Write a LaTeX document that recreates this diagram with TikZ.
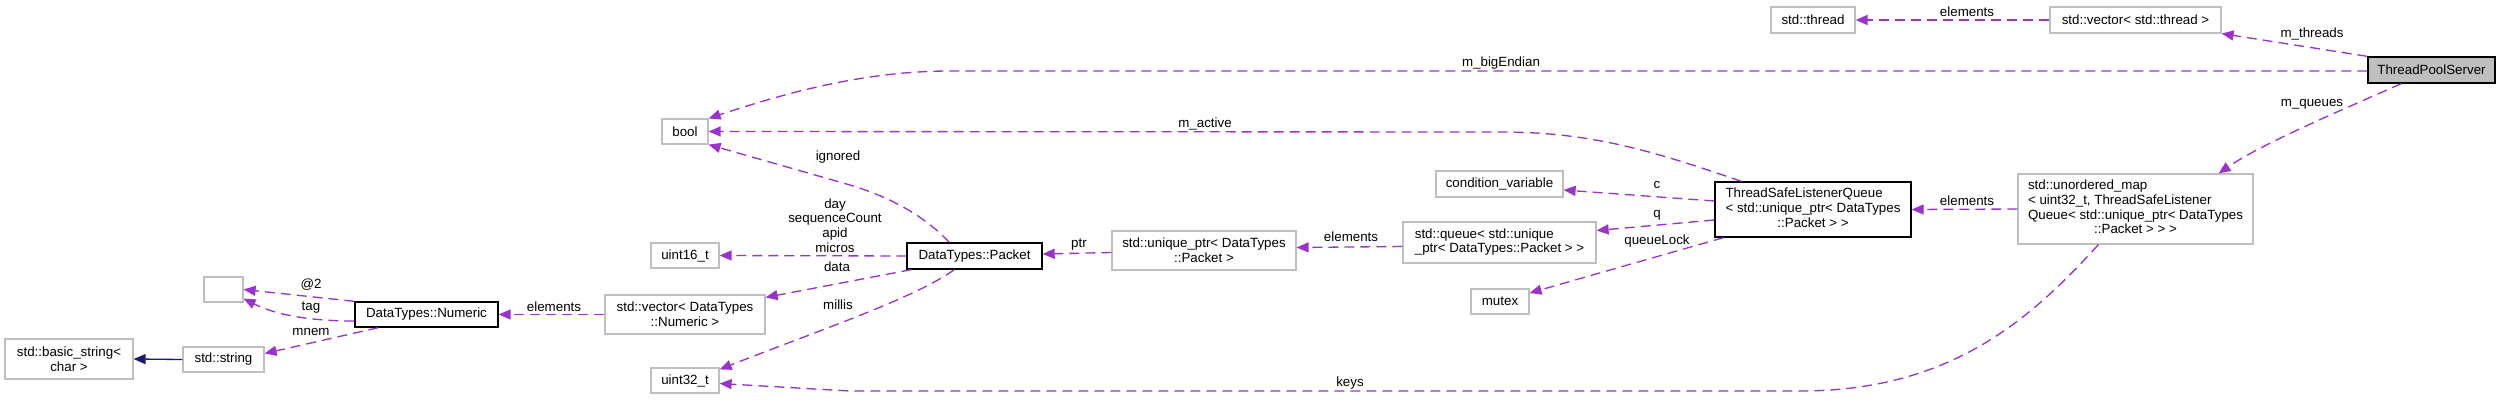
\documentclass[tikz,border=0pt]{standalone}
\usepackage{fontspec}
\setmainfont{Liberation Sans}
\usetikzlibrary{arrows.meta,positioning,calc}
\definecolor{edgepurple}{HTML}{9A32CD}
\definecolor{boxgray}{HTML}{BFBFBF}
\definecolor{inhblue}{HTML}{191970}
\newcommand{\dgfont}{\fontsize{10}{11}\selectfont}

\begin{document}
\begin{tikzpicture}[x=0.75pt, y=-0.75pt,
    cls/.style={draw=boxgray, line width=0.9pt, font=\dgfont, inner sep=0pt, align=center},
    doc/.style={cls, draw=black, line width=1pt},
    sz/.style 2 args={minimum width=#1*0.75pt, minimum height=#2*0.75pt},
    mbr/.style={draw=edgepurple, line width=1pt, dash pattern=on 7.5pt off 4.5pt,
      -{Triangle[length=9pt, width=7.5pt]}},
    inh/.style={draw=inhblue, line width=1pt, -{Triangle[length=9pt, width=7.5pt]}},
    lbl/.style={font=\dgfont, inner sep=0pt, align=center}]
    \useasboundingbox (0,0) rectangle (2501,400);

    % classes
    \node[doc, sz={127}{26}, fill=boxgray] (tps) at (2431.5,70) {ThreadPoolServer};
    \node[cls, sz={171}{26}] (vthread) at (2135.5,20) {std::vector< std::thread >};
    \node[cls, sz={84}{26}] (thread) at (1813,20) {std::thread};
    \node[cls, sz={235}{70}] (umap) at (2135.5,209)
      {\begin{tabular}{@{}l@{}}std::unordered\_map\\< uint32\_t, ThreadSafeListener\\Queue< std::unique\_ptr< DataTypes\\\multicolumn{1}{@{}c@{}}{::Packet > > >}\end{tabular}};
    \node[doc, sz={196}{55}] (tslq) at (1813,209.5)
      {\begin{tabular}{@{}l@{}}ThreadSafeListenerQueue\\< std::unique\_ptr< DataTypes\\\multicolumn{1}{@{}c@{}}{::Packet > >}\end{tabular}};
    \node[cls, sz={127}{26}] (cv) at (1499.5,184) {condition\_variable};
    \node[cls, sz={193}{41}] (queue) at (1499.5,242.5)
      {\begin{tabular}{@{}l@{}}std::queue< std::unique\\\_ptr< DataTypes::Packet > >\end{tabular}};
    \node[cls, sz={58}{25}] (mutex) at (1500,301.5) {mutex};
    \node[cls, sz={184}{39}] (uptr) at (1204,250.5) {std::unique\_ptr< DataTypes\\::Packet >};
    \node[doc, sz={135}{26}] (packet) at (974.5,256) {DataTypes::Packet};
    \node[cls, sz={46}{25}] (boolT) at (685,131.5) {bool};
    \node[cls, sz={68}{25}] (u16) at (685,255.5) {uint16\_t};
    \node[cls, sz={160}{39}] (vnum) at (685,314.5) {std::vector< DataTypes\\::Numeric >};
    \node[cls, sz={68}{25}] (u32) at (685,380.5) {uint32\_t};
    \node[doc, sz={143}{25}] (numeric) at (426.5,314.5) {DataTypes::Numeric};
    \node[cls, sz={39}{25}] (anon) at (223.5,289.5) {};
    \node[cls, sz={81}{25}] (str) at (223.5,359.5) {std::string};
    \node[cls, sz={128}{40}] (bstr) at (69,359) {std::basic\_string<\\char >};

    % members of ThreadPoolServer
    \draw[mbr] (tps.north west) -- (vthread.south east);
    \draw[mbr] ($(tps.west)+(0,1)$) -- (950,71) .. controls (860,71) and (780,95) .. (boolT.north east);
    \draw[mbr] ($(tps.south west)+(34,0)$) .. controls (2330,115) and (2260,145) .. ($(umap.north east)+(-35,0)$);
    \draw[mbr] (vthread.west) -- (thread.east);

    % containers and queues
    \draw[mbr] (umap.west) -- (tslq.east);
    \draw[mbr] ($(umap.south west)+(81,0)$) .. controls (2030,320) and (1950,391) .. (1800,391)
      -- (850,391) -- ($(u32.east)+(0,3)$);
    \draw[mbr] ($(tslq.north west)+(27,0)$) .. controls (1650,150) and (1590,132) .. (1500,132) -- (boolT.east);
    \draw[mbr] ($(tslq.west)+(0,-8.5)$) -- ($(cv.east)+(0,6)$);
    \draw[mbr] ($(tslq.west)+(0,10.5)$) -- ($(queue.east)+(0,-12)$);
    \draw[mbr] ($(tslq.south west)+(9,0)$) -- ($(mutex.east)+(0,-8.5)$);
    \draw[mbr] ($(queue.west)+(0,4)$) -- ($(uptr.east)+(0,-3)$);
    \draw[mbr] ($(uptr.west)+(0,2)$) -- ($(packet.east)+(0,-2)$);

    % members of Packet
    \draw[mbr] ($(packet.north west)+(43,0)$) .. controls (930,222) and (900,200) .. (850,185) -- (boolT.south east);
    \draw[mbr] (packet.west) -- (u16.east);
    \draw[mbr] ($(packet.south west)+(5,0)$) -- ($(vnum.north east)+(0,3)$);
    \draw[mbr] ($(packet.south west)+(48,0)$) .. controls (915,298) and (820,330) .. ($(u32.north east)+(0,2)$);
    \draw[mbr] (vnum.west) -- (numeric.east);

    % members of Numeric
    \draw[mbr] (numeric.north west) -- (anon.east);
    \draw[mbr] ($(numeric.west)+(0,6.5)$) .. controls (300,321) and (270,312) .. ($(anon.south east)+(0,-4)$);
    \draw[mbr] ($(numeric.south west)+(24,0)$) -- ($(str.east)+(0,-6)$);
    \draw[inh] (str.west) -- (bstr.east);

    % edge labels
    \node[lbl] (lthreads) at (2312,34) {m\_threads};
    \node[lbl] (lendian) at (1501,63) {m\_bigEndian};
    \node[lbl] (lqueues) at (2312,104) {m\_queues};
    \node[lbl] (lelthread) at (1967,12) {elements};
    \node[lbl] (lelqueue) at (1967,201) {elements};
    \node[lbl] (lkeys) at (1350,383) {keys};
    \node[lbl] (lactive) at (1205,124) {m\_active};
    \node[lbl] (lc) at (1657,185) {c};
    \node[lbl] (lq) at (1657,215) {q};
    \node[lbl] (llock) at (1657,241) {queueLock};
    \node[lbl] (lelptr) at (1351,237) {elements};
    \node[lbl] (lptr) at (1079,245) {ptr};
    \node[lbl] (lignored) at (838,157) {ignored};
    \node[lbl] (ltime) at (835,225.5) {day\\sequenceCount\\apid\\micros};
    \node[lbl] (ldata) at (837,267) {data};
    \node[lbl] (lmillis) at (838,305) {millis};
    \node[lbl] (lelnum) at (554,307) {elements};
    \node[lbl] (lat) at (311,285) {@2};
    \node[lbl] (ltag) at (311,308) {tag};
    \node[lbl] (lmnem) at (311,332) {mnem};
\end{tikzpicture}
\end{document}
